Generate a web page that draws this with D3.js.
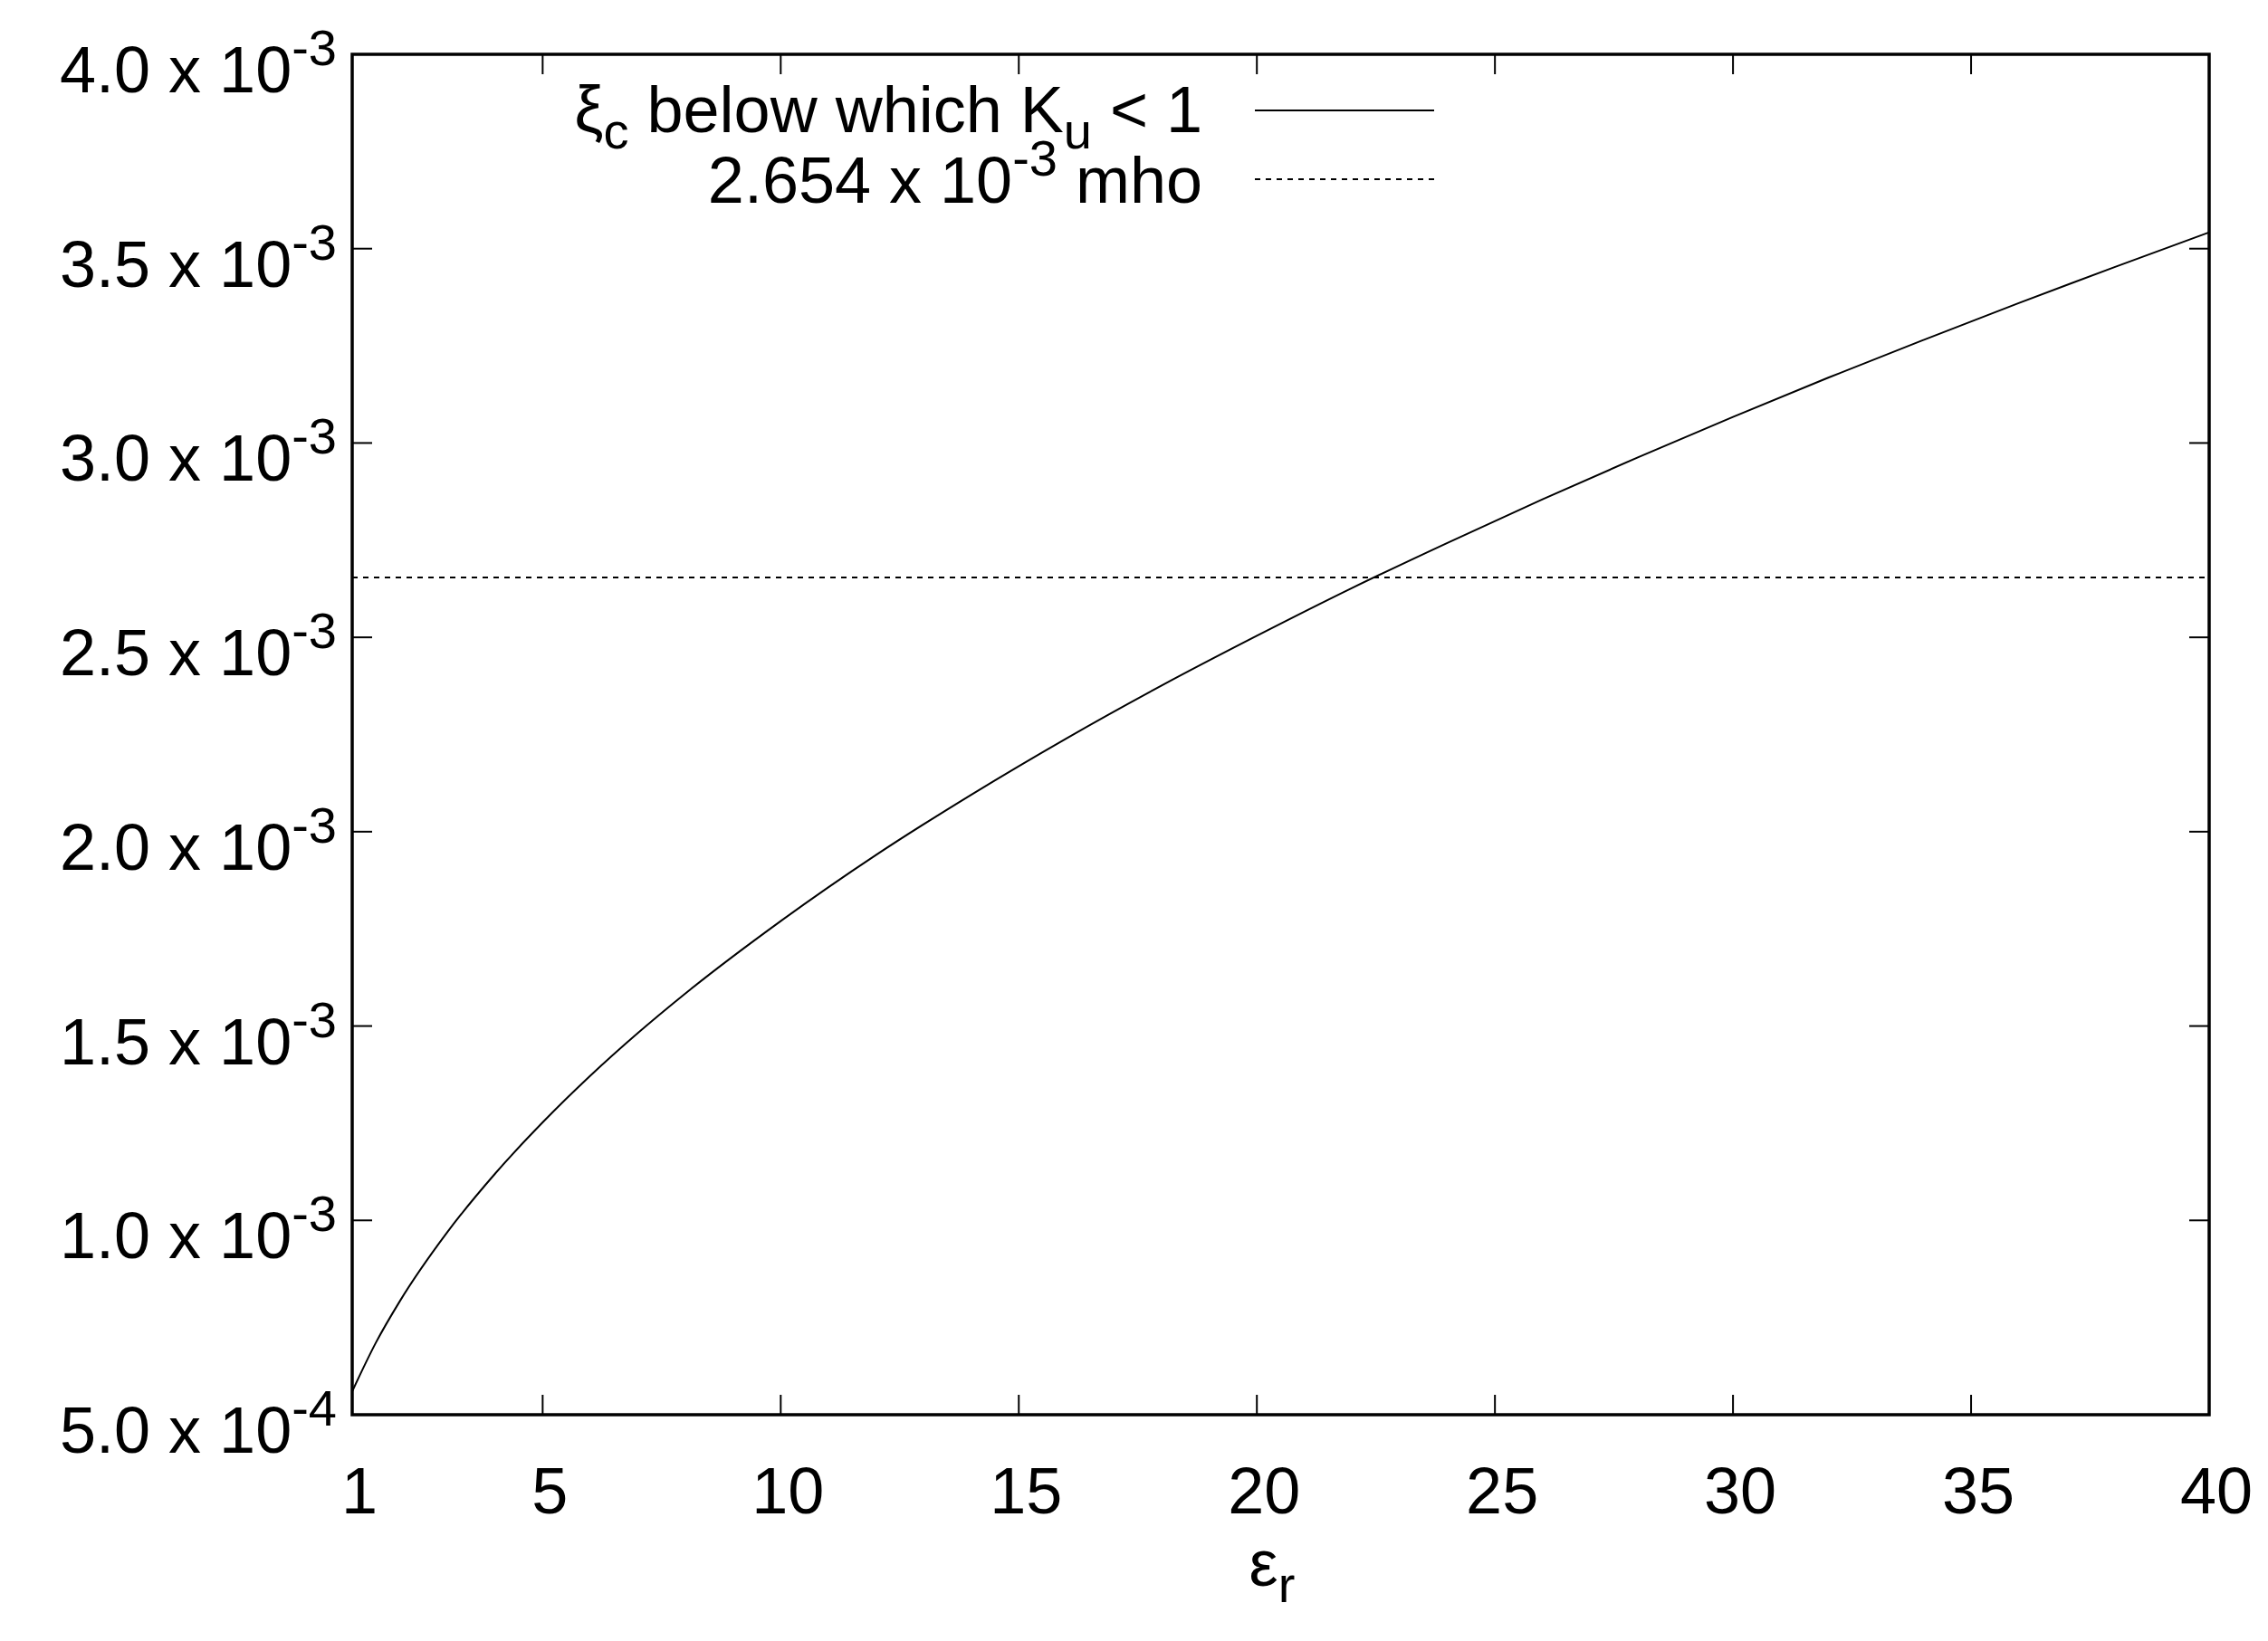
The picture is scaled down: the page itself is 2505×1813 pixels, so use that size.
<!DOCTYPE html><html><head><meta charset="utf-8">
<script src="https://cdn.jsdelivr.net/npm/d3@7"></script>
<style>body{margin:0;background:#fff}text{font-family:"Liberation Sans",Arial,sans-serif;fill:#000}</style></head><body>
<svg id="c" width="2505" height="1813"></svg>
<script>
const xTicks=[1,5,10,15,20,25,30,35,40];
const yTicks=[0.0005,0.001,0.0015,0.002,0.0025,0.003,0.0035,0.004];
const yTickMant=["5.0","1.0","1.5","2.0","2.5","3.0","3.5","4.0"];
const yTickExp=["-4","-3","-3","-3","-3","-3","-3","-3"];
const curveX=[1,1.5,2,3,4,5,6,7,8,10,12,14,16,18,20,22,24,26,28,30,32,34,36,38,40];
const curveY=[0.00056,0.000686,0.000792,0.00097,0.00112,0.001252,0.001372,0.001482,0.001584,0.00177,0.00194,0.002095,0.00224,0.002376,0.002504,0.002627,0.002743,0.002855,0.002963,0.003067,0.003168,0.003265,0.00336,0.003452,0.003542];
const hLine=0.002654;
const svg=d3.select("#c");
const L=389,R=2440,T=60,B=1563;
const x=d3.scaleLinear().domain([1,40]).range([L,R]);
const y=d3.scaleLinear().domain([0.0005,0.004]).range([B,T]);
const fs=72,sfs=56,tl=22;
xTicks.forEach(t=>{[[B,B-tl],[T,T+tl]].forEach(p=>svg.append("line").attr("x1",x(t)).attr("x2",x(t)).attr("y1",p[0]).attr("y2",p[1]).attr("stroke","#000").attr("stroke-width",2));
 svg.append("text").attr("x",x(t)+8).attr("y",1672).attr("text-anchor","middle").attr("font-size",fs).text(t);});
yTicks.forEach((t,i)=>{[[L,L+tl],[R,R-tl]].forEach(p=>svg.append("line").attr("x1",p[0]).attr("x2",p[1]).attr("y1",y(t)).attr("y2",y(t)).attr("stroke","#000").attr("stroke-width",2));
 const tx=svg.append("text").attr("x",372).attr("y",y(t)+42).attr("text-anchor","end").attr("font-size",fs);
 tx.append("tspan").text(yTickMant[i]+" x 10");
 tx.append("tspan").attr("dy",-30).attr("font-size",sfs).text(yTickExp[i]);});
svg.append("rect").attr("x",L).attr("y",T).attr("width",R-L).attr("height",B-T).attr("fill","none").attr("stroke","#000").attr("stroke-width",3.5);
svg.append("line").attr("x1",L).attr("x2",R).attr("y1",y(hLine)).attr("y2",y(hLine)).attr("stroke","#000").attr("stroke-width",2).attr("stroke-dasharray","6,6");
svg.append("path").datum(curveX.map((v,i)=>[v,curveY[i]])).attr("d",d3.line().x(d=>x(d[0])).y(d=>y(d[1])).curve(d3.curveMonotoneX)).attr("fill","none").attr("stroke","#000").attr("stroke-width",2);
const l1=svg.append("text").attr("x",1328).attr("y",146).attr("text-anchor","end").attr("font-size",fs);
l1.append("tspan").text("ξ");l1.append("tspan").attr("font-size",sfs).attr("dy",18).text("c");
l1.append("tspan").attr("dy",-18).text(" below which K");l1.append("tspan").attr("font-size",sfs).attr("dy",18).text("u");
l1.append("tspan").attr("dy",-18).text(" < 1");
svg.append("line").attr("x1",1386).attr("x2",1584).attr("y1",122).attr("y2",122).attr("stroke","#000").attr("stroke-width",2);
const l2=svg.append("text").attr("x",1328).attr("y",224).attr("text-anchor","end").attr("font-size",fs);
l2.append("tspan").text("2.654 x 10");l2.append("tspan").attr("font-size",sfs).attr("dy",-30).text("-3");
l2.append("tspan").attr("dy",30).text("  mho");
svg.append("line").attr("x1",1386).attr("x2",1584).attr("y1",198).attr("y2",198).attr("stroke","#000").attr("stroke-width",2).attr("stroke-dasharray","6,6");
const xl=svg.append("text").attr("x",1405).attr("y",1752).attr("text-anchor","middle").attr("font-size",fs);
xl.append("tspan").text("ε");xl.append("tspan").attr("font-size",sfs).attr("dy",18).text("r");
</script></body></html>
